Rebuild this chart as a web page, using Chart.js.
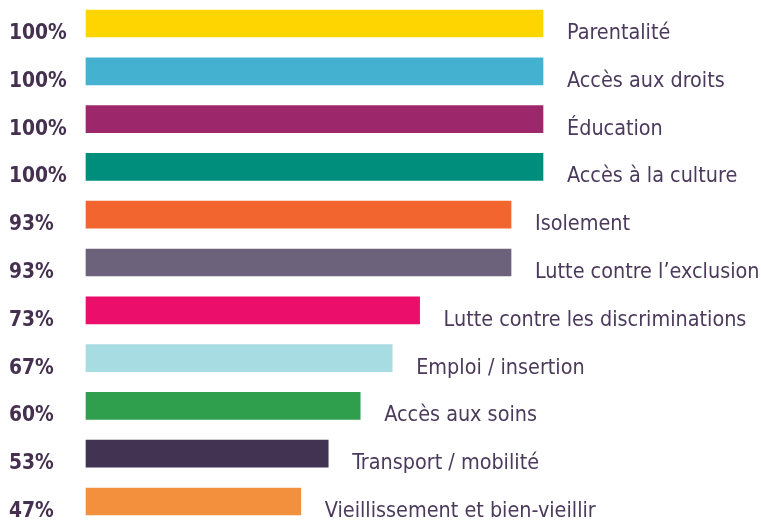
<!DOCTYPE html>
<html>
<head>
<meta charset="utf-8">
<script src="https://cdn.jsdelivr.net/npm/chart.js@4"></script>
<style>
  html, body { margin: 0; padding: 0; background: #fff; }
  #wrap { width: 761px; height: 520px; }
</style>
</head>
<body>
<div id="wrap"><canvas id="chart" width="761" height="520"></canvas></div>
<script>
const categories = [
  'Parentalité', 'Accès aux droits', 'Éducation', 'Accès à la culture',
  'Isolement', 'Lutte contre l’exclusion', 'Lutte contre les discriminations',
  'Emploi / insertion', 'Accès aux soins', 'Transport / mobilité',
  'Vieillissement et bien-vieillir'
];
const values = [100, 100, 100, 100, 93, 93, 73, 67, 60, 53, 47];
const barColors = [
  '#ffd500', '#43b1cf', '#9c286b', '#008e7c', '#f3652e', '#6d627c',
  '#ec0e6b', '#a7dce2', '#2f9f4e', '#433352', '#f2903d'
];

// value labels on the left, category names after each bar
const labelPlugin = {
  id: 'barLabels',
  afterDatasetsDraw(chart) {
    const ctx = chart.ctx;
    const meta = chart.getDatasetMeta(0);
    ctx.save();
    ctx.textBaseline = 'alphabetic';
    meta.data.forEach((bar, i) => {
      const y = bar.y + 15.5;
      ctx.font = 'bold 20.8px "DejaVu Sans Condensed", "DejaVu Sans"';
      ctx.fillStyle = '#45304f';
      ctx.textAlign = 'left';
      ctx.fillText(values[i] + '%', 9, y);
      ctx.font = '21.4px "DejaVu Sans Condensed", "DejaVu Sans"';
      ctx.fillStyle = '#4b3a5c';
      ctx.fillText(categories[i], bar.x + 24, y);
    });
    ctx.restore();
  }
};

new Chart(document.getElementById('chart'), {
  type: 'bar',
  data: {
    labels: categories,
    datasets: [{
      data: values,
      backgroundColor: barColors,
      borderWidth: 0,
      barThickness: 27,
      clip: false
    }]
  },
  options: {
    indexAxis: 'y',
    responsive: false,
    animation: false,
    layout: { padding: { left: 86, right: 218, top: 23.5, bottom: 18.5 } },
    scales: {
      x: { display: false, min: 0, max: 100 },
      y: { display: false, offset: false }
    },
    plugins: {
      legend: { display: false },
      tooltip: { enabled: false }
    }
  },
  plugins: [labelPlugin]
});
</script>
</body>
</html>
